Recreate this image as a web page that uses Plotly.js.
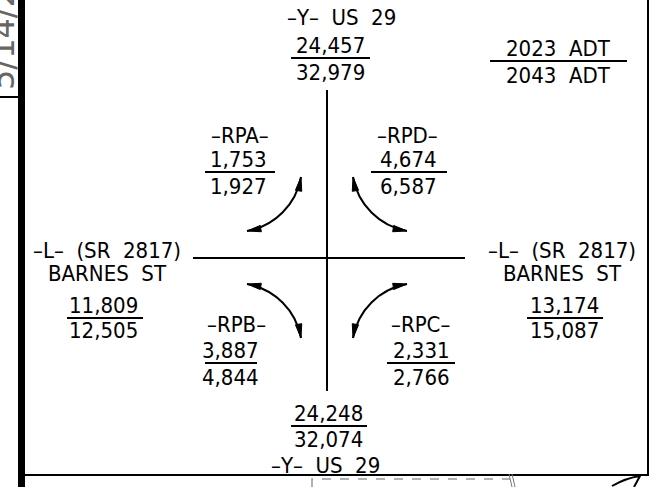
<!DOCTYPE html>
<html>
<head>
<meta charset="utf-8">
<script src="https://cdn.plot.ly/plotly-3.0.1.min.js"></script>
<style>html,body{margin:0;padding:0;background:#fff;}#chart{width:654px;height:487px;}</style>
</head>
<body>
<div id="chart"></div>
<script>
// ---- data ----
const locations = ['Y north', 'Y south', 'L west', 'L east', 'RPA', 'RPD', 'RPB', 'RPC'];
const locationNames = [
  ['–Y–\u00a0\u00a0US\u00a0\u00a029'],
  ['–Y–\u00a0\u00a0US\u00a0\u00a029'],
  ['–L–\u00a0\u00a0(SR\u00a0\u00a02817)', 'BARNES\u00a0\u00a0ST'],
  ['–L–\u00a0\u00a0(SR\u00a0\u00a02817)', 'BARNES\u00a0\u00a0ST'],
  ['–RPA–'], ['–RPD–'], ['–RPB–'], ['–RPC–']
];
const adt2023 = [24457, 24248, 11809, 13174, 1753, 4674, 3887, 2331];
const adt2043 = [32979, 32074, 12505, 15087, 1927, 6587, 4844, 2766];
const legendLabels = ['2023\u00a0\u00a0ADT', '2043\u00a0\u00a0ADT'];
const dateStamp = '5/14/2024';

// ---- layout (positions / styles) ----
const FONT = '"DejaVu Sans Condensed", "DejaVu Sans", sans-serif';
const FS = 22;
const pos = {
  'Y north': {nx: 341, ny: [17], x: 330, y1: 45, ly: 58, y2: 72, lx0: 291, lx1: 370},
  'Y south': {nx: 325, ny: [465], x: 328, y1: 413, ly: 426, y2: 439, lx0: 291, lx1: 367},
  'L west':  {nx: 107, ny: [250, 273], x: 103, y1: 305, ly: 318, y2: 330, lx0: 67, lx1: 143},
  'L east':  {nx: 562, ny: [250, 273], x: 564, y1: 305, ly: 318, y2: 330, lx0: 527, lx1: 603},
  'RPA': {nx: 240, ny: [135], x: 238, y1: 159, ly: 172, y2: 186, lx0: 205, lx1: 275},
  'RPD': {nx: 407, ny: [135], x: 408, y1: 159, ly: 172, y2: 186, lx0: 371, lx1: 447},
  'RPB': {nx: 236, ny: [324], x: 230, y1: 350, ly: 363, y2: 377, lx0: 205, lx1: 257},
  'RPC': {nx: 420, ny: [324], x: 421, y1: 350, ly: 363, y2: 377, lx0: 387, lx1: 455}
};
const fmt = v => v.toLocaleString('en-US');

const annotations = [];
const shapes = [];
const txt = (x, y, t, extra) => Object.assign({
  x: x, y: y, xref: 'x', yref: 'y', text: t, showarrow: false,
  xanchor: 'center', yanchor: 'middle', font: {family: FONT, size: FS, color: '#000'}
}, extra || {});
const line = (x0, y0, x1, y1, w, c) => ({type: 'line', xref: 'x', yref: 'y', x0, y0, x1, y1,
  line: {color: c || '#000', width: w || 2}});

locations.forEach((loc, i) => {
  const p = pos[loc];
  locationNames[i].forEach((n, j) => annotations.push(txt(p.nx, p.ny[j], n)));
  annotations.push(txt(p.x, p.y1, fmt(adt2023[i])));
  annotations.push(txt(p.x, p.y2, fmt(adt2043[i])));
  shapes.push(line(p.lx0, p.ly, p.lx1, p.ly, 2));
});

// legend (ADT years)
annotations.push(txt(558, 48, legendLabels[0]));
annotations.push(txt(558, 75, legendLabels[1]));
shapes.push(line(490, 61, 627, 61, 2));

// date stamp at left margin
annotations.push(txt(3, 92, dateStamp, {textangle: -90, yanchor: 'bottom', xanchor: 'center',
  font: {family: '"DejaVu Sans"', size: 32, color: '#666'}}));

// frame
shapes.push({type: 'rect', xref: 'x', yref: 'y', x0: 18, x1: 25, y0: -5, y1: 492, fillcolor: '#000', line: {width: 0}});
shapes.push(line(0, 97, 18, 97, 2));
shapes.push(line(648, -5, 648, 475, 2));
shapes.push(line(25, 475, 649, 475, 2));

// cross (roads)
shapes.push(line(327, 90, 327, 391, 2));
shapes.push(line(193, 258, 465, 258, 2));

// turning arrows
function arcWithHeads(A, B, C) {
  const r = Math.hypot(A[0] - C[0], A[1] - C[1]);
  const a0 = Math.atan2(A[1] - C[1], A[0] - C[0]);
  let a1 = Math.atan2(B[1] - C[1], B[0] - C[0]);
  let th = a1 - a0;
  while (th > Math.PI) th -= 2 * Math.PI;
  while (th < -Math.PI) th += 2 * Math.PI;
  a1 = a0 + th;
  const k = 4 / 3 * Math.tan(th / 4);
  const P1 = [A[0] + k * r * (-Math.sin(a0)), A[1] + k * r * Math.cos(a0)];
  const P2 = [B[0] - k * r * (-Math.sin(a1)), B[1] - k * r * Math.cos(a1)];
  shapes.push({type: 'path', xref: 'x', yref: 'y',
    path: `M ${A[0]} ${A[1]} C ${P1[0]} ${P1[1]} ${P2[0]} ${P2[1]} ${B[0]} ${B[1]}`,
    line: {color: '#000', width: 2}});
  const s = Math.sign(th);
  const dA = [s * Math.sin(a0), -s * Math.cos(a0)];
  const dB = [-s * Math.sin(a1), s * Math.cos(a1)];
  [[A, dA], [B, dB]].forEach(([T, d]) => {
    const L = 14, w = 3.2;
    const bx = T[0] - L * d[0], by = T[1] - L * d[1];
    const px = -d[1] * w, py = d[0] * w;
    shapes.push({type: 'path', xref: 'x', yref: 'y',
      path: `M ${T[0]} ${T[1]} L ${bx + px} ${by + py} L ${bx - px} ${by - py} Z`,
      fillcolor: '#000', line: {color: '#000', width: 1}});
  });
}
arcWithHeads([301, 177], [247, 231], [235.5, 165.5]);
arcWithHeads([353, 177], [407, 231], [418.5, 165.5]);
arcWithHeads([247, 284], [301, 338], [235.5, 349.5]);
arcWithHeads([407, 284], [353, 338], [418.5, 349.5]);

// fragments below the frame
shapes.push({type: 'path', xref: 'x', yref: 'y', path: 'M 312 487 L 312 479 L 510 479',
  line: {color: '#999', width: 1.5, dash: 'dash'}});
shapes.push(line(509, 474, 512, 487, 1, '#777'));
shapes.push(line(512, 474, 515, 487, 1, '#777'));
shapes.push({type: 'path', xref: 'x', yref: 'y', path: 'M 612 486 Q 626 478 640 476 L 634 487',
  line: {color: '#000', width: 2}});

Plotly.newPlot('chart', [], {
  width: 654, height: 487,
  margin: {l: 0, r: 0, t: 0, b: 0},
  paper_bgcolor: '#fff', plot_bgcolor: '#fff',
  xaxis: {range: [0, 654], visible: false, fixedrange: true},
  yaxis: {range: [487, 0], visible: false, fixedrange: true},
  showlegend: false,
  annotations: annotations,
  shapes: shapes
}, {staticPlot: true, displayModeBar: false});
</script>
</body>
</html>
